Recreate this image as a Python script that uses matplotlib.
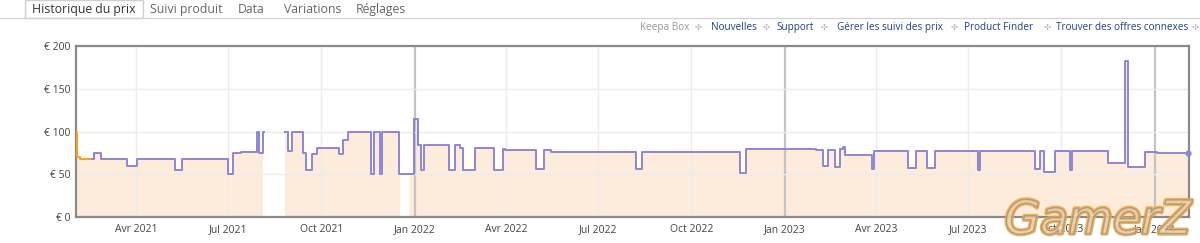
"""
Keepa-style price history strip (Historique du prix) with tabs and link bar.
"""
import numpy as np
import pandas as pd
import matplotlib
matplotlib.use("Agg")
import matplotlib.pyplot as plt
import matplotlib.patheffects as pe
from matplotlib.patches import Rectangle
from matplotlib.lines import Line2D

W, H = 1200, 243
NAN = np.nan

# Amazon price (orange), only at the very start
amazon_dates = ["2021-02-01", "2021-02-02", "2021-02-05", "2021-02-17"]
amazon_prices = [100, 70, 68, 68]

# New price (purple); NaN = no offer
new_dates = [
    "2021-02-17", "2021-02-19", "2021-02-26", "2021-03-23", "2021-04-02",
    "2021-05-10", "2021-05-17", "2021-07-01", "2021-07-06", "2021-07-14",
    "2021-07-30", "2021-08-01", "2021-08-04", "2021-08-05", "2021-08-26",
    "2021-08-29", "2021-09-02", "2021-09-13", "2021-09-16", "2021-09-22",
    "2021-09-27", "2021-10-18", "2021-10-22", "2021-10-27", "2021-11-19",
    "2021-11-22", "2021-11-28", "2021-11-30", "2021-12-17", "2021-12-31",
    "2022-01-04", "2022-01-07", "2022-01-10", "2022-02-04", "2022-02-10",
    "2022-02-15", "2022-02-18", "2022-03-02", "2022-03-20", "2022-03-29",
    "2022-03-31", "2022-05-01", "2022-05-09", "2022-05-16", "2022-08-07",
    "2022-08-13", "2022-09-13", "2022-11-18", "2022-11-24", "2023-02-01",
    "2023-02-08", "2023-02-13", "2023-02-20", "2023-02-25", "2023-02-28",
    "2023-03-02", "2023-03-28", "2023-03-30", "2023-05-03", "2023-05-11",
    "2023-05-22", "2023-05-29", "2023-07-11", "2023-07-13", "2023-09-05",
    "2023-09-10", "2023-09-14", "2023-09-25", "2023-10-10", "2023-10-12",
    "2023-11-16", "2023-12-03", "2023-12-06", "2023-12-23", "2024-01-03",
    "2024-02-03",
]
new_prices = [
    68, 75, 68, 60, 68,
    55, 68, 50, 75, 76,
    100, 75, 100, NAN, 100,
    77, 100, 75, 55, 74,
    81, 74, 90, 100, 50,
    100, 50, 100, 50, 115,
    84, 55, 84, 55, 84,
    81, 55, 81, 55, 80,
    78, 56, 78, 76, 56,
    75.5, 76.5, 52, 80, 78.5,
    60, 78, 58, 79, 82,
    73, 56, 77, 57, 77,
    57, 77, 55, 77, 56,
    77, 53, 77, 55, 77,
    63, 183, 58, 76, 74.5,
    74.5,
]

# periods where the shaded area is missing
fill_gaps = [("2021-12-19", "2021-12-26")]

x_start, x_end = "2021-02-01", "2024-02-04"
tick_dates = ["2021-04-01", "2021-07-01", "2021-10-01", "2022-01-01",
              "2022-04-01", "2022-07-01", "2022-10-01", "2023-01-01",
              "2023-04-01", "2023-07-01", "2023-10-01", "2024-01-01"]
tick_labels = ["Avr 2021", "Jul 2021", "Oct 2021", "Jan 2022",
               "Avr 2022", "Jul 2022", "Oct 2022", "Jan 2023",
               "Avr 2023", "Jul 2023", "Oct 2023", "Jan 2024"]
y_ticks = [0, 50, 100, 150, 200]
y_labels = ["€ 0", "€ 50", "€ 100", "€ 150", "€ 200"]

tabs = ["Historique du prix", "Suivi produit", "Data", "Variations", "Réglages"]
tab_x = [32, 150, 238, 284, 356]
links = ["Keepa Box", "Nouvelles", "Support", "Gérer les suivi des prix",
         "Product Finder", "Trouver des offres connexes"]
link_x = [640, 711, 776, 837, 964, 1056]
sep_x = [698, 766, 824, 954, 1047, 1195]

C_NEW = "#8c86d8"
C_AMZ = "#f7a21b"
C_FILL = "#fdebdb"
C_LINK = "#23418a"

plt.rcParams["font.family"] = ["Open Sans", "DejaVu Sans"]

fig = plt.figure(figsize=(W / 100, H / 100), dpi=100)


def fx(px):
    return px / W


def fy(py):
    return 1 - py / H


ax = fig.add_axes([fx(76), fy(217), fx(1189) - fx(76), fy(46) - fy(217)])

amz = pd.Series(amazon_prices, index=pd.to_datetime(amazon_dates))
new = pd.Series(new_prices, index=pd.to_datetime(new_dates))

# shaded area: daily forward-filled price, amazon first then new offers
both = pd.concat([amz.iloc[:-1], new])
both = both[~both.index.duplicated(keep="last")]
days = pd.date_range(x_start, new.index[-1], freq="D")
daily = both.reindex(days, method="ffill")
for a, b in fill_gaps:
    daily[a:b] = NAN
ax.fill_between(daily.index, daily.values, step="post", color=C_FILL,
                lw=0, zorder=1)

# grid
for t in tick_dates:
    d = pd.Timestamp(t)
    if d.month == 1:
        ax.axvline(d, color="#c4c4c4", lw=1.6, zorder=2)
    else:
        ax.axvline(d, color="#ececec", lw=1.0, zorder=2)
for v in y_ticks[1:-1]:
    ax.axhline(v, color="#ececec", lw=1.0, zorder=2)

ax.step(amz.index, amz.values, where="post", color=C_AMZ, lw=1.4, zorder=3)
ax.step(new.index, new.values, where="post", color=C_NEW, lw=1.4, zorder=4)
ax.plot(new.index[-1], new.values[-1], "o", ms=3.5, color=C_NEW, zorder=5,
        clip_on=False)

ax.set_xlim(pd.Timestamp(x_start), pd.Timestamp(x_end))
ax.set_ylim(0, 200)
ax.set_xticks(pd.to_datetime(tick_dates))
ax.set_xticklabels(tick_labels)
ax.set_yticks(y_ticks)
ax.set_yticklabels(y_labels)
ax.tick_params(length=0, labelsize=7.5, labelcolor="#444", pad=4)
ax.tick_params(axis="x", pad=5)
for s in ax.spines.values():
    s.set_color("#8a8a8a")
    s.set_linewidth(1.6)
ax.set_facecolor("white")

# tab bar
fig.add_artist(Line2D([0, 1], [fy(18), fy(18)], color="#d6d6d6", lw=1.0,
                      transform=fig.transFigure))
fig.add_artist(Rectangle((fx(25), fy(18.5)), fx(143) - fx(25), fy(0) - fy(18.5),
                         transform=fig.transFigure, facecolor="white",
                         edgecolor="#d0d0d0", lw=1.0))
for i, (t, x) in enumerate(zip(tabs, tab_x)):
    fig.text(fx(x), fy(9.5), t, ha="left", va="center", fontsize=8.8,
             color="#333" if i == 0 else "#666")

# link bar
for i, (t, x) in enumerate(zip(links, link_x)):
    fig.text(fx(x), fy(27), t, ha="left", va="center", fontsize=7.2,
             color="#999" if i == 0 else C_LINK)
for x in sep_x:
    fig.text(fx(x), fy(27), "✣", ha="center", va="center", fontsize=6,
             color="#b0b0b0", family="DejaVu Sans")

# watermark (see-through fill, orange outline)
fig.text(fx(1098), fy(221), "GamerZ", ha="center", va="center", fontsize=33,
         fontstyle="italic", family="DejaVu Sans", color=(1, 1, 1, 0.2),
         path_effects=[pe.Stroke(linewidth=3.2, foreground=(0.94, 0.65, 0.23, 0.85)),
                       pe.Stroke(linewidth=1.0, foreground=(0.55, 0.55, 0.55, 0.8)),
                       pe.Normal()])

fig.savefig("out.png", dpi=100)
